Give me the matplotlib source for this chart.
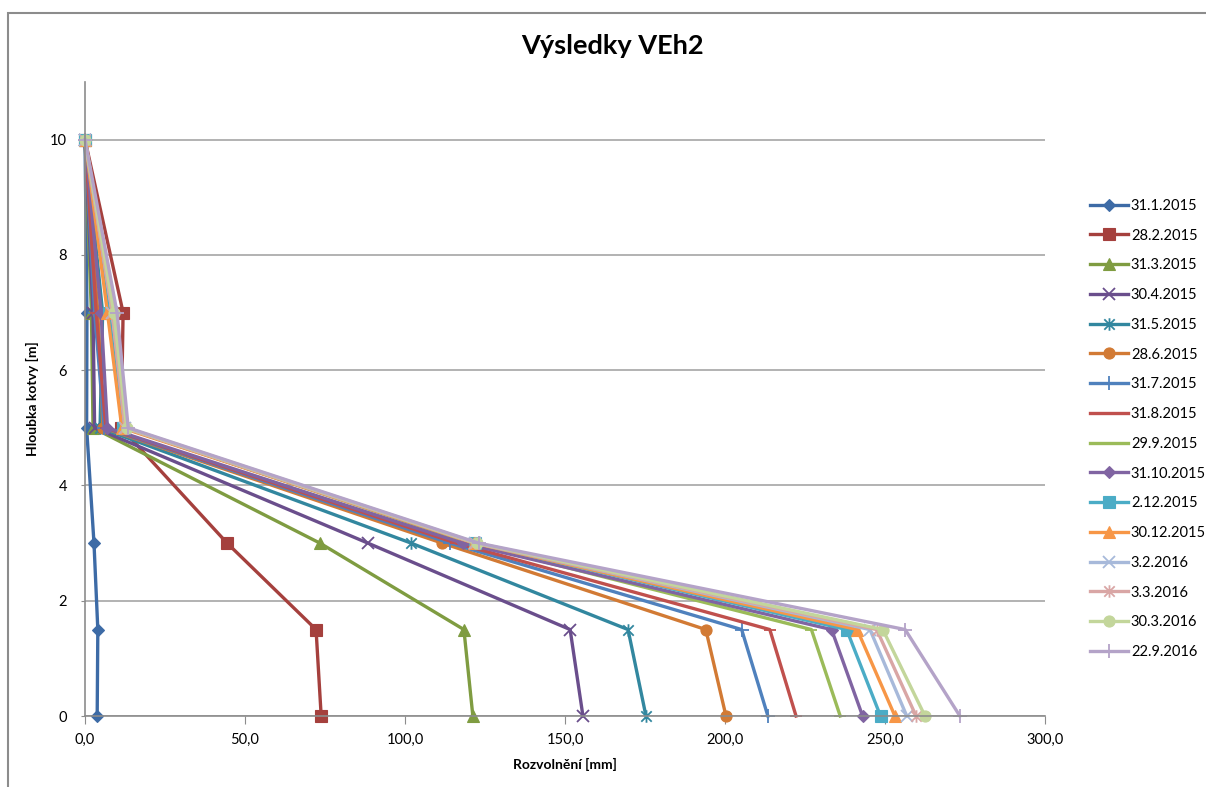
import matplotlib
matplotlib.use("Agg")
import matplotlib.pyplot as plt
from matplotlib.path import Path
from matplotlib.patches import Rectangle

# depth of anchor points [m]
hloubka = [10, 7, 5, 3, 1.5, 0]

# measured values [mm] for each date, same order as hloubka
d_31_1_2015 = [0, 0.6, 0.5, 2.8, 4.0, 3.8]
d_28_2_2015 = [0, 11.9, 11.3, 44.4, 72.2, 73.8]
d_31_3_2015 = [0, 2.0, 2.5, 73.4, 118.4, 121.2]
d_30_4_2015 = [0, 2.5, 3.0, 88.4, 151.6, 155.6]
d_31_5_2015 = [0, 5.5, 4.7, 101.9, 169.7, 175.3]
d_28_6_2015 = [0, 4.0, 5.6, 111.6, 194.0, 200.3]
d_31_7_2015 = [0, 3.0, 6.0, 114.0, 205.2, 213.4]
d_31_8_2015 = [0, 3.5, 6.5, 116.0, 214.0, 222.2]
d_29_9_2015 = [0, 9.0, 12.5, 120.5, 227.0, 236.0]
d_31_10_2015 = [0, 5.0, 7.0, 118.0, 233.3, 243.0]
d_2_12_2015 = [0, 7.5, 12.0, 122.0, 238.0, 248.6]
d_30_12_2015 = [0, 7.0, 11.5, 121.5, 241.3, 253.1]
d_3_2_2016 = [0, 8.5, 12.5, 122.0, 245.3, 256.8]
d_3_3_2016 = [0, 8.5, 12.5, 122.0, 247.4, 259.7]
d_30_3_2016 = [0, 9.0, 13.0, 122.5, 249.3, 262.5]
d_22_9_2016 = [0, 10.0, 13.5, 123.0, 256.3, 273.4]

datumy = ["31.1.2015", "28.2.2015", "31.3.2015", "30.4.2015", "31.5.2015",
          "28.6.2015", "31.7.2015", "31.8.2015", "29.9.2015", "31.10.2015",
          "2.12.2015", "30.12.2015", "3.2.2016", "3.3.2016", "30.3.2016",
          "22.9.2016"]
hodnoty = [d_31_1_2015, d_28_2_2015, d_31_3_2015, d_30_4_2015, d_31_5_2015,
           d_28_6_2015, d_31_7_2015, d_31_8_2015, d_29_9_2015, d_31_10_2015,
           d_2_12_2015, d_30_12_2015, d_3_2_2016, d_3_3_2016, d_30_3_2016,
           d_22_9_2016]

# Excel 2007 style colours (dark, normal, light)
barvy = ["#3D6BA6", "#A5403D", "#7F9C41", "#6A4E8C", "#32879F", "#D27A34",
         "#4F81BD", "#C0504D", "#9BBB59", "#8064A2", "#4BACC6", "#F79646",
         "#A7B9DA", "#D9A6A5", "#C3D69B", "#B4A3C8"]

# excel "star" marker: x with a vertical bar
star = Path([(-1, -1), (1, 1), (-1, 1), (1, -1), (0, -1.2), (0, 1.2)],
            [Path.MOVETO, Path.LINETO, Path.MOVETO, Path.LINETO,
             Path.MOVETO, Path.LINETO])
znacky = ["D", "s", "^", "x", star, "o", "+", "_",
          "_", "D", "s", "^", "x", star, "o", "+"]
velikosti = [6, 8, 8, 9, 9, 8, 10, 9, 9, 6, 8, 8, 9, 9, 8, 10]

plt.rcParams['font.family'] = ['Lato', 'DejaVu Sans']

fig = plt.figure(figsize=(12.06, 7.87), dpi=100)
ax = fig.add_axes([0.0705, 0.0902, 0.796, 0.8056])

for i in range(len(datumy)):
    m = znacky[i]
    thin = m in ("x", "+", "_") or m is star
    ax.plot(hodnoty[i], hloubka, color=barvy[i], lw=2.4, marker=m,
            markersize=velikosti[i],
            markeredgewidth=1.3 if thin else 0.8,
            markerfacecolor=barvy[i], markeredgecolor=barvy[i],
            label=datumy[i], solid_joinstyle="round", clip_on=False)

ax.set_xlim(0, 300)
ax.set_ylim(0, 11)
ax.set_xticks([0, 50, 100, 150, 200, 250, 300])
ax.set_xticklabels(["0,0", "50,0", "100,0", "150,0", "200,0", "250,0", "300,0"])
ax.set_yticks([0, 2, 4, 6, 8, 10])
ax.grid(axis="y", color="#A6A6A6", lw=1.2)
ax.set_axisbelow(True)
for s in ("top", "right"):
    ax.spines[s].set_visible(False)
for s in ("left", "bottom"):
    ax.spines[s].set_color("#8C8C8C")
    ax.spines[s].set_linewidth(1.2)
ax.tick_params(axis="x", length=6, color="#8C8C8C", labelsize=10.5, pad=6)
ax.tick_params(axis="y", length=3, color="#8C8C8C", labelsize=10.5, pad=10)

ax.set_xlabel("Rozvolnění [mm]", fontsize=10, fontweight="bold", labelpad=8)
ax.set_ylabel("Hloubka kotvy [m]", fontsize=10, fontweight="bold", labelpad=8)
fig.text(0.508, 0.942, "Výsledky VEh2", ha="center", va="center",
         fontsize=19.5, fontweight="bold")

ax.legend(loc="center left", bbox_to_anchor=(0.893, 0.455),
          bbox_transform=fig.transFigure, frameon=False, fontsize=10.5,
          handlelength=2.6, labelspacing=1.08, handletextpad=0.2)

# chart border
fig.patches.append(Rectangle((8 / 1206, -0.05), 1.1, 1 - 13 / 787 + 0.05,
                             transform=fig.transFigure, fill=False,
                             edgecolor="#8C8C8C", lw=1.5))

fig.savefig("out.png", dpi=100)
